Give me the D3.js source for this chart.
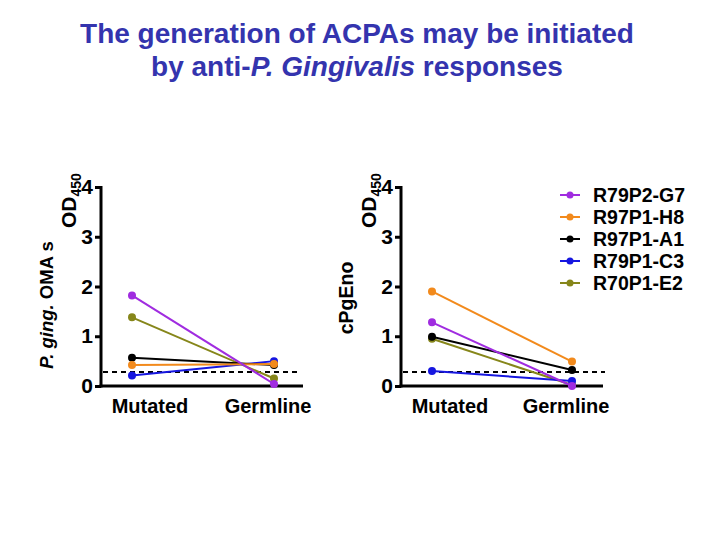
<!DOCTYPE html>
<html><head><meta charset="utf-8">
<script src="https://cdn.jsdelivr.net/npm/d3@7"></script>
<style>body{margin:0;background:#fff;} svg{display:block;font-family:"Liberation Sans",Arial,sans-serif;}</style>
</head><body>
<script>
const categories = ["Mutated", "Germline"];
const series = ["R79P2-G7", "R97P1-H8", "R97P1-A1", "R79P1-C3", "R70P1-E2"];
const colors = ["#a02ce0", "#f28a1c", "#000000", "#1616e0", "#86861a"];
const omaMutated = [1.82, 0.42, 0.57, 0.21, 1.38];
const omaGermline = [0.04, 0.44, 0.42, 0.50, 0.15];
const enoMutated = [1.28, 1.90, 0.99, 0.30, 0.95];
const enoGermline = [0.00, 0.49, 0.32, 0.10, 0.02];
const cutoff = 0.28;
const yTicks = [0, 1, 2, 3, 4];

const W = 720, H = 540;
const svg = d3.select("body").append("svg").attr("width", W).attr("height", H);

// Title
const title = svg.append("text").attr("text-anchor", "middle").attr("fill", "#3434ae")
  .style("font-size", "28px").style("font-weight", "bold");
title.append("tspan").attr("x", 357).attr("y", 43).text("The generation of ACPAs may be initiated");
const t2 = title.append("tspan").attr("x", 357).attr("y", 76);
t2.append("tspan").text("by anti-");
t2.append("tspan").style("font-style", "italic").text("P. Gingivalis");
t2.append("tspan").text(" responses");

const y = d3.scaleLinear().domain([0, 4]).range([386, 187]);

function panel(axisX, axisEnd, ptRange, mutated, germline, labelOffsets, dashRange) {
  const g = svg.append("g");
  const x = d3.scalePoint().domain(categories).range(ptRange);
  // y axis
  const ax = g.append("g").attr("transform", `translate(${axisX},0)`)
    .call(d3.axisLeft(y).tickValues(yTicks).tickSize(6).tickSizeOuter(0).tickPadding(2).tickFormat(d3.format("d")));
  ax.select(".domain").attr("stroke-width", 3).attr("d", `M0,${y(4) - 1}V${y(0) + 1.5}`);
  ax.selectAll(".tick line").attr("stroke-width", 3);
  ax.selectAll(".tick text").style("font-size", "21px").style("font-weight", "bold").attr("fill", "#000")
    .attr("font-family", "'Liberation Sans',Arial,sans-serif");
  // x axis line
  g.append("line").attr("x1", axisX - 1.5).attr("x2", axisEnd).attr("y1", y(0)).attr("y2", y(0))
    .attr("stroke", "#000").attr("stroke-width", 3);
  g.selectAll(".xl").data(categories).enter().append("text")
    .attr("x", (d, i) => x(d) + labelOffsets[i]).attr("y", 413).attr("text-anchor", "middle")
    .style("font-size", "20px").style("font-weight", "bold").text(d => d);
  // cutoff
  g.append("line").attr("x1", dashRange[0]).attr("x2", dashRange[1]).attr("y1", y(cutoff)).attr("y2", y(cutoff))
    .attr("stroke", "#000").attr("stroke-width", 2).attr("stroke-dasharray", "5,4");
  // series
  const order = [4, 3, 2, 1, 0];
  order.forEach(i => {
    const pts = [[x("Mutated"), y(mutated[i])], [x("Germline"), y(germline[i])]];
    g.append("path").attr("d", d3.line()(pts)).attr("stroke", colors[i]).attr("stroke-width", 2).attr("fill", "none");
    pts.forEach(p => g.append("circle").attr("cx", p[0]).attr("cy", p[1]).attr("r", 4).attr("fill", colors[i]));
  });
  return g;
}

panel(101, 303, [132, 274], omaMutated, omaGermline, [18, -6], [103, 298]);
panel(401, 603, [432, 572], enoMutated, enoGermline, [18, -6], [403, 605]);

// y labels
function odLabel(bx) {
  const t = svg.append("text").attr("transform", `translate(${bx},228) rotate(-90)`)
    .style("font-size", "21px").style("font-weight", "bold");
  t.append("tspan").text("OD");
  t.append("tspan").attr("dy", 5).style("font-size", "14px").text("450");
}
odLabel(76);
odLabel(376);

const l1 = svg.append("text").attr("transform", "translate(53,305) rotate(-90)").attr("text-anchor", "middle")
  .style("font-size", "18.5px").style("font-weight", "bold");
l1.append("tspan").style("font-style", "italic").text("P. ging.");
l1.append("tspan").text(" OMA s");

svg.append("text").attr("transform", "translate(353,298) rotate(-90)").attr("text-anchor", "middle")
  .style("font-size", "19.5px").style("font-weight", "bold").text("cPgEno");

// legend
const leg = svg.append("g");
series.forEach((s, i) => {
  const cy = 195 + i * 22;
  leg.append("line").attr("x1", 560).attr("x2", 580).attr("y1", cy).attr("y2", cy).attr("stroke", colors[i]).attr("stroke-width", 2);
  leg.append("circle").attr("cx", 570).attr("cy", cy).attr("r", 3.5).attr("fill", colors[i]);
  leg.append("text").attr("x", 593).attr("y", cy + 7).style("font-size", "19.5px").style("font-weight", "bold").text(s);
});
</script>
</body></html>
